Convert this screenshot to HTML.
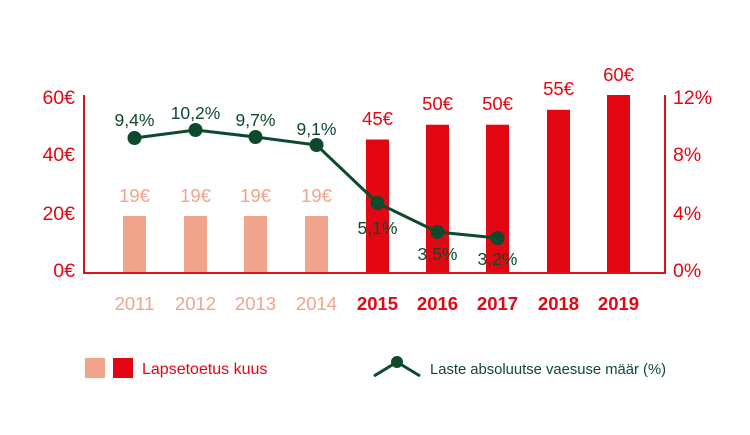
<!DOCTYPE html>
<html><head><meta charset="utf-8"><style>
html,body{margin:0;padding:0;background:#fff;}
svg text{font-family:"Liberation Sans",sans-serif;}
</style></head><body>
<svg width="750" height="430" viewBox="0 0 750 430" xmlns="http://www.w3.org/2000/svg">
<g fill="#f0a48c">
<rect x="123" y="216" width="23" height="57"/>
<rect x="184" y="216" width="23" height="57"/>
<rect x="244" y="216" width="23" height="57"/>
<rect x="305" y="216" width="23" height="57"/>
</g>
<g fill="#e30613">
<rect x="366" y="139.5" width="23" height="133.5"/>
<rect x="426" y="124.7" width="23" height="148.3"/>
<rect x="486" y="124.7" width="23" height="148.3"/>
<rect x="547" y="109.8" width="23" height="163.2"/>
<rect x="607" y="95" width="23" height="178"/>
</g>
<path d="M84 95 V273 H665 V95" fill="none" stroke="#d9141c" stroke-width="2"/>
<g font-size="19.5" fill="#e30613" text-anchor="end">
<text x="75" y="104">60€</text><text x="75" y="161">40€</text><text x="75" y="220">20€</text><text x="75" y="277">0€</text>
</g>
<g font-size="19.5" fill="#e30613" text-anchor="start">
<text x="673" y="104">12%</text><text x="673" y="161">8%</text><text x="673" y="220">4%</text><text x="673" y="277">0%</text>
</g>
<g font-size="18.5" fill="#f0a48c" text-anchor="middle">
<text x="134.5" y="202">19€</text><text x="195.5" y="202">19€</text><text x="255.5" y="202">19€</text><text x="316.5" y="202">19€</text>
<text x="134.5" y="310">2011</text><text x="195.5" y="310">2012</text><text x="255.5" y="310">2013</text><text x="316.5" y="310">2014</text>
</g>
<g font-size="18.5" fill="#e30613" text-anchor="middle">
<text x="377.5" y="125">45€</text><text x="437.5" y="110">50€</text><text x="497.5" y="110">50€</text><text x="558.5" y="95">55€</text><text x="618.5" y="81">60€</text>
</g>
<g font-size="18.5" fill="#e30613" text-anchor="middle" font-weight="bold">
<text x="377.5" y="310">2015</text><text x="437.5" y="310">2016</text><text x="497.5" y="310">2017</text><text x="558.5" y="310">2018</text><text x="618.5" y="310">2019</text>
</g>
<polyline points="134.5,138 195.5,130 255.5,137 316.5,145 377.5,203 437.5,232 497.5,238" fill="none" stroke="#0d4a2c" stroke-width="3"/>
<g fill="#0d4a2c">
<circle cx="134.5" cy="138" r="7"/><circle cx="195.5" cy="130" r="7"/><circle cx="255.5" cy="137" r="7"/><circle cx="316.5" cy="145" r="7"/><circle cx="377.5" cy="203" r="7"/><circle cx="437.5" cy="232" r="7"/><circle cx="497.5" cy="238" r="7"/>
</g>
<g font-size="17.5" fill="#0d4a2c" text-anchor="middle">
<text x="134.5" y="126">9,4%</text><text x="195.5" y="119">10,2%</text><text x="255.5" y="126">9,7%</text><text x="316.5" y="135">9,1%</text>
<text x="377.5" y="234">5,1%</text><text x="437.5" y="260">3,5%</text><text x="497.5" y="265">3,2%</text>
</g>
<rect x="85" y="358" width="20" height="20" fill="#f0a48c"/>
<rect x="113" y="358" width="20" height="20" fill="#e30613"/>
<text x="142" y="374" font-size="16" fill="#e30613">Lapsetoetus kuus</text>
<polyline points="374,376 397,362 420,376" fill="none" stroke="#0d4a2c" stroke-width="3"/>
<circle cx="397" cy="362" r="6" fill="#0d4a2c"/>
<text x="430" y="374" font-size="14.8" fill="#0d4a2c">Laste absoluutse vaesuse määr (%)</text>
</svg>
</body></html>
